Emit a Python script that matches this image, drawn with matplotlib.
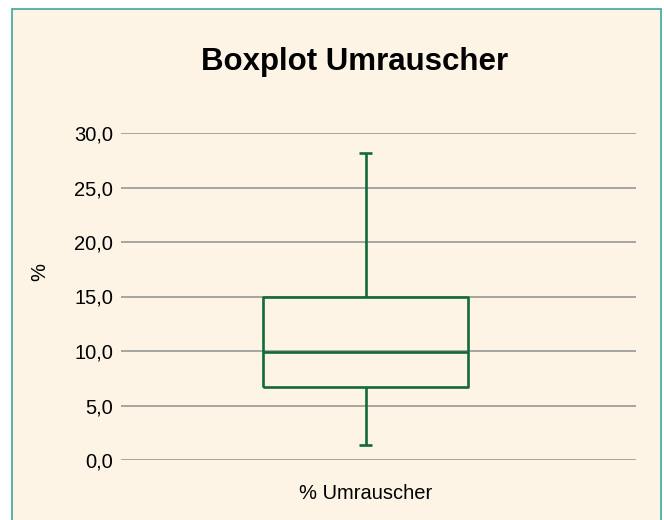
import matplotlib.pyplot as plt
from matplotlib.patches import Rectangle
from matplotlib.ticker import FuncFormatter

plt.rcParams['font.family'] = ['Liberation Sans', 'DejaVu Sans']

# Data
category = '% Umrauscher'
whisker_low = 1.4
quartile_1 = 6.7
median = 9.9
quartile_3 = 15.0
whisker_high = 28.2
y_ticks = [0, 5, 10, 15, 20, 25, 30]

green = '#126a37'
cream = '#fdf4e6'

fig = plt.figure(figsize=(6.64, 5.2), dpi=100)
fig.patch.set_facecolor('white')

# panel background with teal border
fig.patches.append(Rectangle((12 / 664, -0.05), 649 / 664, 1.05 - 9 / 520,
                             transform=fig.transFigure, facecolor=cream,
                             edgecolor='#3aa7a1', linewidth=1.2, zorder=-1))

ax = fig.add_axes([121 / 664, 1 - 460 / 520, 515 / 664, 327 / 520])
ax.set_facecolor('none')
ax.set_zorder(2)

stats = [dict(whislo=whisker_low, q1=quartile_1, med=median,
              q3=quartile_3, whishi=whisker_high, fliers=[], label=category)]
line = dict(color=green, linewidth=1.9, solid_capstyle='butt')
ax.bxp(stats, positions=[1], widths=0.418, capwidths=0.027, showfliers=False,
       boxprops=line, whiskerprops=line, capprops=line, medianprops=line)

ax.set_xlim(0.5, 1.553)
ax.set_ylim(0, 30)
ax.set_yticks(y_ticks)
ax.yaxis.set_major_formatter(FuncFormatter(lambda v, p: f'{v:.1f}'.replace('.', ',')))
ax.grid(axis='y', color='#8f8f8f', linewidth=1.1)
ax.set_axisbelow(True)
for s in ax.spines.values():
    s.set_visible(False)
ax.tick_params(length=0, labelsize=14.5, colors='black')
ax.tick_params(axis='y', pad=5.5)
ax.tick_params(axis='x', pad=17.5)

fig.text(40 / 664, 1 - 272 / 520, '%', fontsize=14.5, rotation=90,
         ha='center', va='center', zorder=3)
fig.text(355 / 664, 1 - 62 / 520, 'Boxplot Umrauscher', fontsize=22.5,
         fontweight='bold', ha='center', va='center', zorder=3)

fig.savefig('out.png', dpi=100, facecolor=fig.get_facecolor())
